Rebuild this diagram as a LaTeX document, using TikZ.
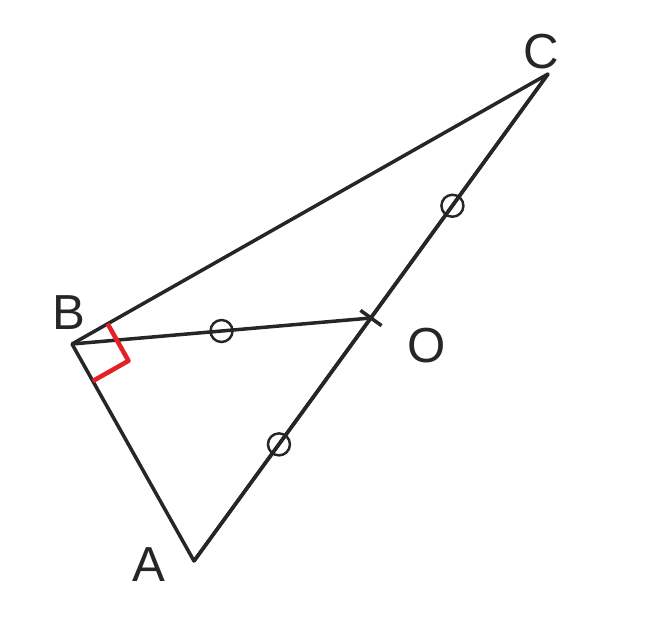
\documentclass[tikz,border=0pt]{standalone}
\usepackage{fontspec}
\setmainfont{Liberation Sans}
\usetikzlibrary{calc}
\definecolor{anglered}{RGB}{228,32,40}

\begin{document}
\begin{tikzpicture}[x=0.02cm, y=-0.02cm, line width=2pt, color={black!85},
	label/.style={font=\fontsize{28}{30}\selectfont},
	eqmark/.style={circle, draw, minimum size=0.44cm, inner sep=0pt, line width=1.4pt}]
	\useasboundingbox (0,0) rectangle (648,625);

	\coordinate (A) at (194,561);
	\coordinate (B) at (72,344);
	\coordinate (C) at (548,74);
	\coordinate (O) at (371,318);

	\node[label] (lA) at (149,565) {A};
	\node[label] (lB) at (69,313) {B};
	\node[label] (lC) at (541,52) {C};
	\node[label] (lO) at (427,346) {O};

	\draw[line join=round] (A) -- (B) -- (C) -- cycle;
	\draw (B) -- (O) node [midway, eqmark] (m1) {};
	\draw (O) -- (C) node [pos=0.46, eqmark] (m2) {};
	\draw (A) -- (O) node [pos=0.48, eqmark] (m3) {};

	% tick at O
	\draw ($(O)!0.26cm!90:(C)$) -- ($(O)!0.26cm!-90:(C)$);

	% right angle at B
	\coordinate (r1) at ($(B)!0.82cm!(C)$);
	\coordinate (r3) at ($(B)!0.85cm!(A)$);
	\draw[anglered, line width=2.6pt, line join=round] (r1) -- ($(r1)+(r3)-(B)$) -- (r3);
\end{tikzpicture}
\end{document}
